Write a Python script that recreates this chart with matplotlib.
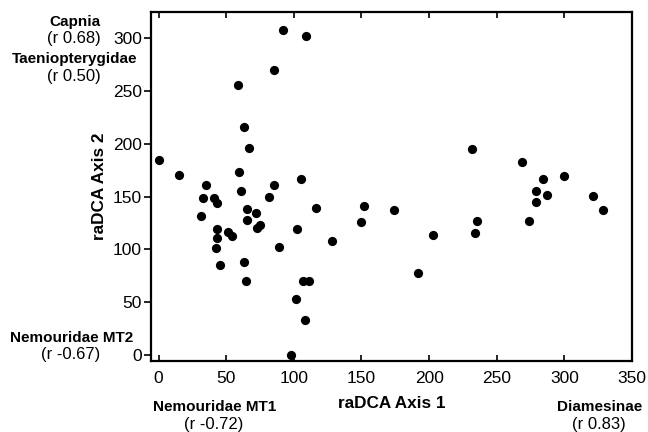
import matplotlib
matplotlib.use("Agg")
import matplotlib.pyplot as plt

# Sample scores on raDCA axes
axis1 = [0, 15, 35, 33, 41, 43, 31, 59.5, 61, 85, 82, 105.5, 65.5, 72, 65.5, 75, 73,
         102, 43, 51.5, 54, 43.5, 42.5, 89, 45.5, 63, 65, 107, 111, 101.5, 108, 98,
         92, 109, 85, 58.5, 63, 67, 116.5, 128, 152, 150, 174, 203, 192, 232,
         235.5, 234, 269, 284, 279, 287, 279, 273.5, 300, 321, 328.5]
axis2 = [185, 171, 161, 149, 149, 144, 132, 173, 155, 161, 150, 167, 138, 135, 128, 123, 120,
         119, 119, 117, 113, 111, 101, 102, 85, 88, 70, 70, 70, 53, 33, 0,
         308, 302, 270, 256, 216, 196, 139, 108, 141, 126, 137, 114, 78, 195,
         126.5, 116, 183, 167, 155, 152, 144.5, 126.5, 170, 150.5, 137]

xticks = [0, 50, 100, 150, 200, 250, 300, 350]
yticks = [0, 50, 100, 150, 200, 250, 300]

# Taxa correlated with axes: (name, r)
taxa_top = [("Capnia", "(r 0.68)"), ("Taeniopterygidae", "(r 0.50)")]
taxa_low_left = ("Nemouridae MT2", "(r -0.67)")
taxa_bottom_left = ("Nemouridae MT1", "(r -0.72)")
taxa_bottom_right = ("Diamesinae", "(r 0.83)")

plt.rcParams['font.family'] = ['Liberation Sans', 'DejaVu Sans']

fig = plt.figure(figsize=(6.48, 4.32), dpi=100)
ax = fig.add_axes([151/648, 1-361/432, (632-151)/648, (361-12)/432])

ax.scatter(axis1, axis2, s=44, color='black', zorder=3, linewidths=0)

ax.set_xlim(-5.6, 350)
ax.set_ylim(-5.7, 325)
ax.set_xticks(xticks)
ax.set_yticks(yticks)

for sp in ax.spines.values():
    sp.set_linewidth(1.6)

ax.tick_params(axis='x', direction='in', top=True, bottom=True, length=4, width=1.2,
               labelsize=12.5, pad=7)
ax.tick_params(axis='y', direction='out', left=True, right=False, length=5, width=1.2,
               labelsize=12.5, pad=1.5)

ax.set_xlabel("raDCA Axis 1", fontsize=12.3, fontweight='bold')
ax.set_ylabel("raDCA Axis 2", fontsize=12.3, fontweight='bold')
ax.xaxis.label.set_va('center')
ax.yaxis.label.set_va('center')
ax.xaxis.set_label_coords(0.5, (361-404)/349)
ax.yaxis.set_label_coords((100-151)/481, 0.5)

def label(xpix, ypix, name, r):
    fig.text(xpix/648, 1-ypix/432, name, ha='center', va='center',
             fontsize=11, fontweight='bold')
    fig.text((xpix-1)/648, 1-(ypix+17)/432, r, ha='center', va='center',
             fontsize=12)

label(75, 22, *taxa_top[0])
label(74.5, 59, *taxa_top[1])
label(72, 338, *taxa_low_left)
label(215, 407, *taxa_bottom_left)
label(599.5, 407, *taxa_bottom_right)

fig.savefig("out.png", dpi=100)
